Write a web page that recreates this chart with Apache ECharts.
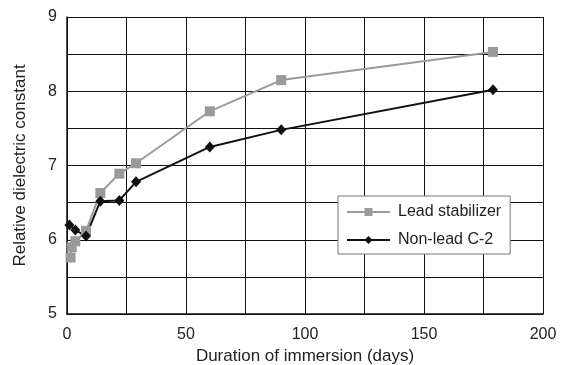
<!DOCTYPE html>
<html>
<head>
<meta charset="utf-8">
<script src="https://cdn.jsdelivr.net/npm/echarts@6/dist/echarts.min.js"></script>
<style>html,body{margin:0;padding:0;background:#fff;}#c{width:562px;height:365px;}</style>
</head>
<body>
<div id="c"></div>
<script>
var leadDays = [1.5, 2, 3.5, 8, 14, 22, 29, 60, 90, 179];
var leadValues = [5.76, 5.9, 5.98, 6.12, 6.63, 6.89, 7.03, 7.73, 8.15, 8.53];
var nonLeadDays = [1, 3.5, 8, 14, 22, 29, 60, 90, 179];
var nonLeadValues = [6.2, 6.13, 6.05, 6.52, 6.53, 6.78, 7.25, 7.48, 8.02];
var xTickLabels = [0, 50, 100, 150, 200];
var yTickLabels = [5, 6, 7, 8, 9];

function pairs(xs, ys) { return xs.map(function (x, i) { return [x, ys[i]]; }); }

var font = '"Liberation Sans", Arial, sans-serif';
var chart = echarts.init(document.getElementById('c'), null, {renderer: 'canvas'});
chart.setOption({
  animation: false,
  backgroundColor: '#fff',
  grid: {left: 67, right: 19, top: 17, bottom: 51, containLabel: false, outerBoundsMode: 'none'},
  xAxis: {
    type: 'value', min: 0, max: 200, interval: 25,
    name: 'Duration of immersion (days)', nameLocation: 'middle', nameGap: 33,
    nameTextStyle: {color: '#222', fontSize: 17, fontFamily: font},
    axisLine: {show: true, lineStyle: {color: '#111', width: 1.5}},
    axisTick: {show: false},
    axisLabel: {color: '#222', fontSize: 16, fontFamily: font, margin: 13,
      formatter: function (v) { return xTickLabels.indexOf(v) >= 0 ? String(v) : ''; }},
    splitLine: {show: true, lineStyle: {color: '#111', width: 1}}
  },
  yAxis: {
    type: 'value', min: 5, max: 9, interval: 0.5,
    name: 'Relative dielectric constant', nameLocation: 'middle', nameGap: 38,
    nameTextStyle: {color: '#222', fontSize: 17, fontFamily: font},
    axisLine: {show: true, lineStyle: {color: '#111', width: 1.5}},
    axisTick: {show: false},
    axisLabel: {color: '#222', fontSize: 16, fontFamily: font, margin: 10,
      formatter: function (v) { return yTickLabels.indexOf(v) >= 0 ? String(v) : ''; }},
    splitLine: {show: true, lineStyle: {color: '#111', width: 1}}
  },
  legend: {
    orient: 'vertical', left: 338, top: 196,
    backgroundColor: '#fff', borderColor: '#777', borderWidth: 1,
    padding: [8, 9, 6, 8], itemGap: 12, itemWidth: 43, itemHeight: 10,
    textStyle: {color: '#222', fontSize: 16, fontFamily: font, padding: [0, 0, 0, 3]},
    data: ['Lead stabilizer', 'Non-lead C-2']
  },
  series: [
    {
      name: 'Lead stabilizer', type: 'line', data: pairs(leadDays, leadValues),
      symbol: 'rect', symbolSize: 10,
      lineStyle: {color: '#9a9a9a', width: 2},
      itemStyle: {color: '#9a9a9a'}
    },
    {
      name: 'Non-lead C-2', type: 'line', data: pairs(nonLeadDays, nonLeadValues),
      symbol: 'diamond', symbolSize: [10, 11],
      lineStyle: {color: '#111', width: 2},
      itemStyle: {color: '#111'}
    }
  ]
});
</script>
</body>
</html>
